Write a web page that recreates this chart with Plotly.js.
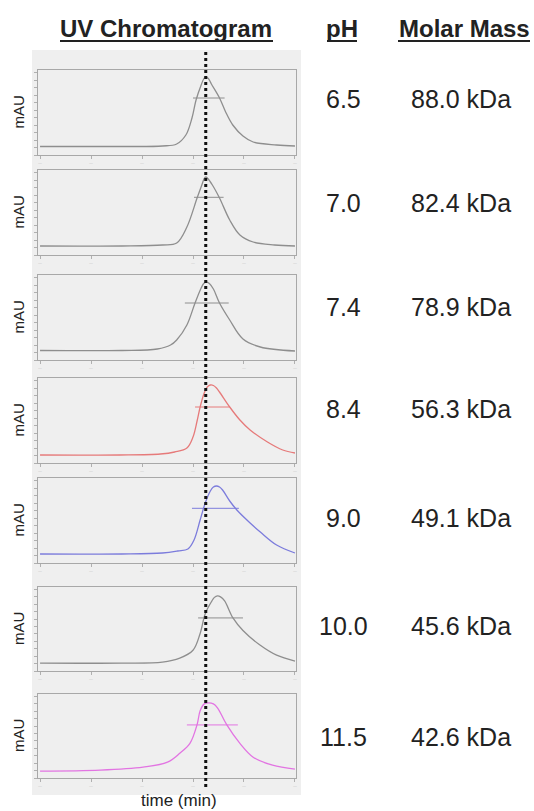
<!DOCTYPE html>
<html><head><meta charset="utf-8">
<script src="https://cdn.plot.ly/plotly-3.0.1.min.js"></script>
<style>html,body{margin:0;padding:0;background:#fff}#chart{width:534px;height:811px}</style>
</head><body><div id="chart"></div>
<script>
// ---- data ----
const phLabels = ["6.5", "7.0", "7.4", "8.4", "9.0", "10.0", "11.5"];
const molarMass = ["88.0 kDa", "82.4 kDa", "78.9 kDa", "56.3 kDa", "49.1 kDa", "45.6 kDa", "42.6 kDa"];
const colors = ["#8e8e8e", "#8e8e8e", "#8e8e8e", "#e67a7a", "#7c7cdc", "#8e8e8e", "#e274e2"];

const time65 = [0, 8, 12, 13.4, 14.3, 14.9, 15.3, 15.8, 16.05, 16.25, 16.5, 16.8, 17.6, 18.2, 18.9, 19.9, 20.9, 23.2, 25];
const mau65  = [8.5, 8.5, 9, 11, 20, 37, 55, 70, 76, 78, 76.5, 71, 57, 43, 30, 19, 13, 10, 9];
const time70 = [0, 8, 12, 13.4, 14.4, 15.4, 15.9, 16.1, 16.25, 16.45, 16.9, 17.6, 18.6, 19.6, 20.9, 23, 25];
const mau70  = [9, 9, 10, 12, 28, 57, 71, 76.5, 78, 76.5, 70, 57, 35, 20, 13, 10, 9];
const time74 = [0, 8, 11.5, 12.8, 13.4, 14.4, 15.2, 15.8, 16.05, 16.3, 16.6, 17.0, 17.6, 18.6, 19.9, 21.6, 25];
const mau74  = [9.5, 9.5, 11, 15, 20, 35, 57, 72, 76.5, 78, 76.5, 71, 57, 40, 21, 13, 9];
const time84 = [0, 7.8, 11.8, 13.2, 14.4, 15.0, 15.4, 15.7, 16.1, 16.4, 16.7, 17.0, 17.3, 17.6, 18.6, 19.6, 20.6, 22.3, 23.8, 25];
const mau84  = [8, 8, 9, 11, 15, 26, 42, 56, 70, 76, 78, 77.5, 75, 71, 56, 43, 33, 21, 13, 10];
const time90 = [0, 8, 12, 13.5, 14.5, 15.1, 15.7, 16.2, 16.7, 17.0, 17.3, 17.6, 17.9, 18.6, 19.3, 20.6, 21.6, 23.2, 25];
const mau90  = [9, 9, 10, 12, 14, 23, 43, 60, 72, 76, 77, 76, 73, 62, 53, 40, 31, 18, 10];
const time100 = [0, 8, 12, 13.7, 15.0, 15.7, 16.2, 16.8, 17.1, 17.4, 17.7, 18.1, 18.9, 19.9, 21.6, 23.2, 25];
const mau100  = [8, 8, 9, 13, 21, 38, 58, 70, 74.5, 76, 75, 71, 54, 41, 26, 16, 10];
const time115 = [0, 5.9, 10.1, 12.5, 13.7, 14.7, 15.4, 15.7, 16.1, 16.5, 17.0, 17.4, 18.3, 19.6, 20.9, 22.8, 25];
const mau115  = [7, 8, 11, 16, 25, 35, 54, 68, 75, 76, 75, 71, 54, 35, 21, 13, 9];

const halfLevel = [57, 57.7, 57, 56, 54.7, 53.7, 53.7];
const halfStart = [15.0, 15.1, 14.2, 15.2, 14.9, 15.5, 14.4];
const halfEnd   = [18.1, 18.0, 18.5, 18.6, 19.5, 19.9, 19.4];
const markerTime = 16.25;
const timeTicks = [0, 5, 10, 15, 20, 25];

const times = [time65, time70, time74, time84, time90, time100, time115];
const maus  = [mau65, mau70, mau74, mau84, mau90, mau100, mau115];

// ---- layout geometry (pixels) ----
const W = 534, H = 811;
const panelTop = [70, 170, 275, 378, 478, 587, 694];
const panelBot = [155, 255, 360, 463, 563, 671, 778];
const textY = [99, 203, 307, 409, 518, 626, 737];
const px = x => x / W;
const py = y => 1 - y / H;
const FONT = "Liberation Sans, Arial, Helvetica, sans-serif";

const traces = [];
const layout = {
  width: W, height: H,
  margin: {l: 0, r: 0, t: 0, b: 0},
  paper_bgcolor: "#ffffff",
  plot_bgcolor: "#f6f6f6",
  showlegend: false,
  shapes: [],
  annotations: []
};

layout.shapes.push({type: "rect", xref: "paper", yref: "paper", layer: "below",
  x0: px(32), x1: px(301), y0: py(795), y1: py(50),
  fillcolor: "#efefef", line: {width: 0}});

for (let i = 0; i < 7; i++) {
  const s = i === 0 ? "" : String(i + 1);
  traces.push({
    type: "scatter", mode: "lines", x: times[i], y: maus[i],
    xaxis: "x" + s, yaxis: "y" + s,
    line: {color: colors[i], width: 1.3, shape: "spline", smoothing: 1},
    hoverinfo: "skip"
  });
  traces.push({
    type: "scatter", mode: "lines", x: [halfStart[i], halfEnd[i]], y: [halfLevel[i], halfLevel[i]],
    xaxis: "x" + s, yaxis: "y" + s,
    line: {color: colors[i], width: 1},
    hoverinfo: "skip"
  });
  layout["xaxis" + s] = {
    domain: [px(38), px(296)], range: [-0.2, 25.1], anchor: "y" + s,
    showline: true, mirror: true, linecolor: "#a8a8a8", linewidth: 1,
    ticks: "outside", ticklen: 3, tickcolor: "#b0b0b0", tickvals: timeTicks,
    showticklabels: true, ticktext: timeTicks.map(() => "—"), tickmode: "array",
    tickfont: {size: 4, color: "#c0c0c0"},
    showgrid: false, zeroline: false, fixedrange: true
  };
  layout["yaxis" + s] = {
    domain: [py(panelBot[i]), py(panelTop[i])], range: [0, 85], anchor: "x" + s,
    showline: true, mirror: true, linecolor: "#a8a8a8", linewidth: 1,
    ticks: "outside", ticklen: 3, tickcolor: "#b0b0b0", tick0: 0, dtick: 7.5,
    showticklabels: false, showgrid: false, zeroline: false, fixedrange: true
  };
  layout.annotations.push({xref: "paper", yref: "paper", x: px(18), y: py((panelTop[i] + panelBot[i]) / 2),
    text: "mAU", textangle: -90, showarrow: false, xanchor: "center", yanchor: "middle",
    font: {family: FONT, size: 15, color: "#222"}});
  layout.annotations.push({xref: "paper", yref: "paper", x: px(343), y: py(textY[i]),
    text: phLabels[i], showarrow: false, xanchor: "center", yanchor: "middle",
    font: {family: FONT, size: 25, color: "#222"}});
  layout.annotations.push({xref: "paper", yref: "paper", x: px(461), y: py(textY[i]),
    text: molarMass[i], showarrow: false, xanchor: "center", yanchor: "middle",
    font: {family: FONT, size: 25, color: "#222"}});
}

// dotted marker line
layout.shapes.push({type: "line", xref: "x", yref: "paper", x0: markerTime, x1: markerTime,
  y0: py(787), y1: py(52), line: {color: "#111", width: 3, dash: "dot"}, layer: "above"});

// headers
const headers = [["UV Chromatogram", 166, 60, 273], ["pH", 342, 327, 357], ["Molar Mass", 464, 398, 530]];
headers.forEach(h => {
  layout.annotations.push({xref: "paper", yref: "paper", x: px(h[1]), y: py(28),
    text: "<b>" + h[0] + "</b>", showarrow: false, xanchor: "center", yanchor: "middle",
    font: {family: FONT, size: 24, color: "#222"}});
  layout.shapes.push({type: "line", xref: "paper", yref: "paper", x0: px(h[2]), x1: px(h[3]),
    y0: py(41), y1: py(41), line: {color: "#222", width: 2}});
});

layout.annotations.push({xref: "paper", yref: "paper", x: px(179), y: py(800),
  text: "time (min)", showarrow: false, xanchor: "center", yanchor: "middle",
  font: {family: FONT, size: 17, color: "#222"}});

Plotly.newPlot("chart", traces, layout, {staticPlot: true, displayModeBar: false});
</script></body></html>
